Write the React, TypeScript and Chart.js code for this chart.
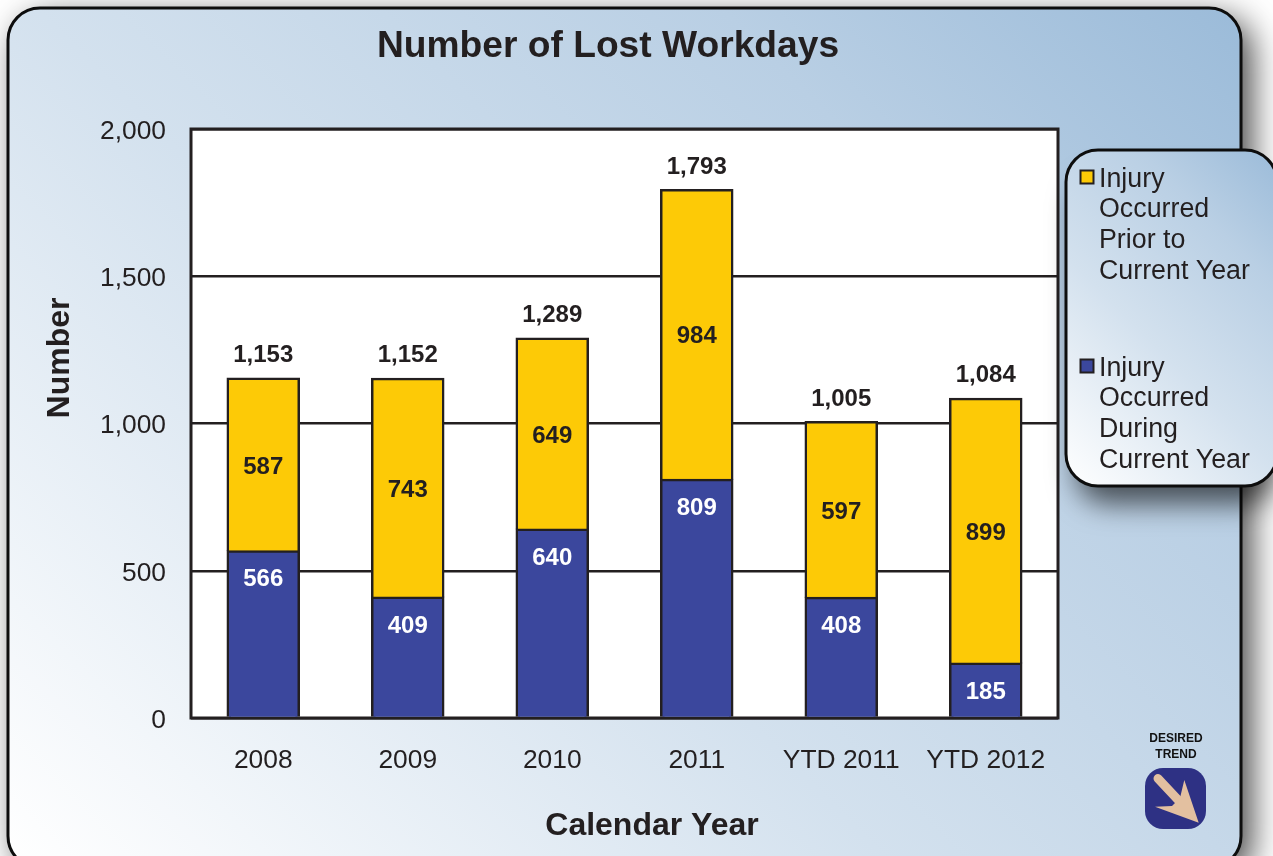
import React, { useEffect, useRef } from "react";
import { Chart, registerables } from "chart.js";

Chart.register(...registerables);

const categories = ["2008", "2009", "2010", "2011", "YTD 2011", "YTD 2012"];
const duringYear = [566, 409, 640, 809, 408, 185];
const priorYear = [587, 743, 649, 984, 597, 899];
const totals = [1153, 1152, 1289, 1793, 1005, 1084];
const yTicks = [0, 500, 1000, 1500, 2000];
const chartTitle = "Number of Lost Workdays";
const xTitle = "Calendar Year";
const yTitle = "Number";
const priorLegend = ["Injury", "Occurred", "Prior to", "Current Year"];
const duringLegend = ["Injury", "Occurred", "During", "Current Year"];
const trendLabel = ["DESIRED", "TREND"];

const INK = "#231f20";
const BLUE = "#3b479d";
const YELLOW = "#fdca06";
const FONT = '"Liberation Sans", Arial, sans-serif';
const fmt = (n: number) => n.toLocaleString("en-US");

function roundPath(c: CanvasRenderingContext2D, x: number, y: number, w: number, h: number, r: number) {
  c.beginPath();
  c.roundRect(x, y, w, h, r);
}

function diag(c: CanvasRenderingContext2D, x0: number, y1: number, x1: number, y0: number) {
  const d = (x1 - x0 + (y1 - y0)) / 2;
  const g = c.createLinearGradient(x0, y1, x0 + d, y1 - d);
  g.addColorStop(0, "#ffffff");
  g.addColorStop(0.42, "#d3e1ee");
  g.addColorStop(0.75, "#b9cfe4");
  g.addColorStop(1, "#9bbbd9");
  return g;
}

const backdrop = {
  id: "backdrop",
  beforeDraw(chart: any) {
    const c: CanvasRenderingContext2D = chart.ctx;
    const a = chart.chartArea;
    chart.scales.y.getLabelItems().forEach((item: any) => {
      if (!item.shifted) {
        item.options.translation[1] += 2.5;
        item.shifted = true;
      }
    });
    c.save();
    c.save();
    c.shadowColor = "rgba(0,0,0,0.75)";
    c.shadowBlur = 34;
    c.shadowOffsetX = 10;
    c.shadowOffsetY = 10;
    roundPath(c, 8, 8, 1233, 860, 32);
    c.fillStyle = "#c5d8e8";
    c.fill();
    c.restore();
    roundPath(c, 8, 8, 1233, 860, 32);
    c.fillStyle = diag(c, 8, 856, 1241, 8);
    c.fill();
    c.lineWidth = 3;
    c.strokeStyle = "#0d0d0d";
    c.stroke();
    c.fillStyle = "#ffffff";
    c.fillRect(a.left, a.top, a.width, a.height);
    c.restore();
  },
  beforeDatasetsDraw(chart: any) {
    const c: CanvasRenderingContext2D = chart.ctx;
    const a = chart.chartArea;
    c.save();
    c.lineWidth = 3;
    c.strokeStyle = INK;
    c.strokeRect(a.left, a.top, a.width, a.height);
    c.restore();
  },
};

const annotations = {
  id: "annotations",
  afterDraw(chart: any) {
    const c: CanvasRenderingContext2D = chart.ctx;
    const x = chart.scales.x;
    const y = chart.scales.y;
    c.save();
    c.textAlign = "center";
    c.textBaseline = "middle";

    // values on the bars
    c.font = `bold 24px ${FONT}`;
    categories.forEach((_, i) => {
      const cx = x.getPixelForValue(i);
      c.fillStyle = "#ffffff";
      c.fillText(String(duringYear[i]), cx, y.getPixelForValue(duringYear[i]) + 28.5);
      c.fillStyle = INK;
      c.fillText(String(priorYear[i]), cx, y.getPixelForValue(duringYear[i] + priorYear[i] / 2) + 2);
      c.fillText(fmt(totals[i]), cx, y.getPixelForValue(totals[i]) - 23);
    });

    // titles
    c.fillStyle = INK;
    c.font = `bold 37.2px ${FONT}`;
    c.fillText(chartTitle, 608, 46.5);
    c.font = `bold 32px ${FONT}`;
    c.fillText(xTitle, 652, 826);
    c.save();
    c.translate(60, 358);
    c.rotate(-Math.PI / 2);
    c.fillText(yTitle, 0, 0);
    c.restore();

    // legend panel
    c.save();
    c.shadowColor = "rgba(0,0,0,0.62)";
    c.shadowBlur = 28;
    c.shadowOffsetX = 0;
    c.shadowOffsetY = 18;
    roundPath(c, 1076, 160, 201, 326, 32);
    c.fillStyle = "#c5d8e8";
    c.fill();
    c.restore();
    roundPath(c, 1066, 150, 211, 336, 32);
    c.fillStyle = diag(c, 1066, 486, 1277, 150);
    c.fill();
    c.lineWidth = 3;
    c.strokeStyle = "#0d0d0d";
    c.stroke();

    const entry = (lines: string[], color: string, top: number) => {
      c.fillStyle = color;
      c.fillRect(1080.5, top - 7.5, 13, 13);
      c.lineWidth = 2;
      c.strokeStyle = INK;
      c.strokeRect(1080.5, top - 7.5, 13, 13);
      c.fillStyle = INK;
      c.font = `26.8px ${FONT}`;
      c.textAlign = "left";
      lines.forEach((t, i) => c.fillText(t, 1099, top + 1.5 + i * 30.6));
    };
    entry(priorLegend, YELLOW, 178);
    entry(duringLegend, BLUE, 367);

    // desired-trend badge
    c.textAlign = "center";
    c.fillStyle = "#111111";
    c.font = `bold 12px ${FONT}`;
    c.fillText(trendLabel[0], 1176, 738.5);
    c.fillText(trendLabel[1], 1176, 754.5);
    roundPath(c, 1145, 768, 61, 61, 18);
    c.fillStyle = "#2e3184";
    c.fill();
    c.strokeStyle = "#e3c0a0";
    c.fillStyle = "#e3c0a0";
    c.lineWidth = 9;
    c.lineCap = "round";
    c.beginPath();
    c.moveTo(1158, 778.5);
    c.lineTo(1180, 802);
    c.stroke();
    c.beginPath();
    c.moveTo(1198.7, 822.7);
    c.lineTo(1184.3, 780);
    c.lineTo(1180, 798);
    c.lineTo(1172, 806);
    c.lineTo(1155, 806.7);
    c.closePath();
    c.fill();
    c.restore();
  },
};

export default function App() {
  const ref = useRef<HTMLCanvasElement>(null);
  useEffect(() => {
    const chart = new Chart(ref.current!, {
      type: "bar",
      data: {
        labels: categories,
        datasets: [
          { label: "Injury Occurred During Current Year", data: duringYear, backgroundColor: BLUE, borderColor: INK, borderWidth: 2.5, inflateAmount: 1 },
          { label: "Injury Occurred Prior to Current Year", data: priorYear, backgroundColor: YELLOW, borderColor: INK, borderWidth: 2.5, inflateAmount: 1 },
        ],
      },
      options: {
        responsive: false,
        animation: false,
        layout: { padding: { top: 129, right: 215, left: 0, bottom: 0 } },
        datasets: { bar: { categoryPercentage: 1, barPercentage: 0.495 } },
        plugins: { legend: { display: false }, tooltip: { enabled: false }, title: { display: false } },
        scales: {
          x: {
            stacked: true,
            afterFit: (s: any) => { s.height = 138; },
            grid: { display: false },
            border: { display: false },
            ticks: { color: INK, font: { family: FONT, size: 26.4 }, padding: 19, maxRotation: 0, autoSkip: false },
          },
          y: {
            stacked: true,
            min: 0,
            max: 2000,
            afterFit: (s: any) => { s.width = 191; },
            afterBuildTicks: (s: any) => { s.ticks = yTicks.map((value) => ({ value })); },
            grid: { color: INK, lineWidth: 2.5, drawTicks: false },
            border: { display: false },
            ticks: { color: INK, font: { family: FONT, size: 26.4 }, padding: 25, callback: (v: any) => fmt(Number(v)) },
          },
        },
      },
      plugins: [backdrop, annotations],
    } as any);
    return () => chart.destroy();
  }, []);
  return (
    <div style={{ position: "fixed", left: 0, top: 0, width: 1273, height: 856, background: "#fff", overflow: "hidden" }}>
      <canvas ref={ref} width={1273} height={856} style={{ display: "block", width: 1273, height: 856 }} />
    </div>
  );
}
